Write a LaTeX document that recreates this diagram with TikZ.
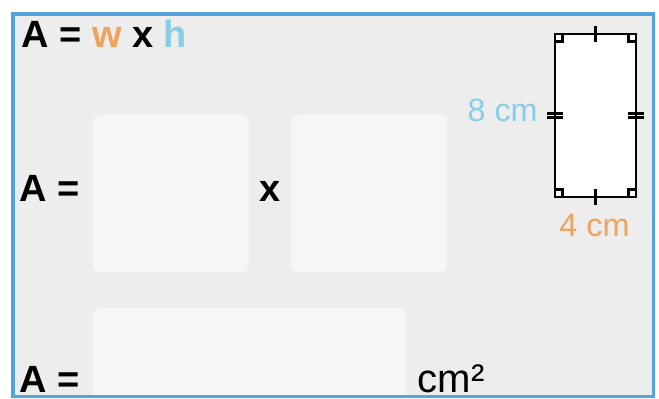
\documentclass[tikz,border=0pt]{standalone}
\usepackage{fontspec}
\setmainfont{Liberation Sans}
\definecolor{framecol}{HTML}{52A3DE}
\definecolor{paper}{HTML}{EDEDED}
\definecolor{slot}{HTML}{F6F6F6}
\definecolor{wcol}{HTML}{F0A35E}
\definecolor{hcol}{HTML}{88CDEA}
\tikzset{
  big/.style = {inner sep = 0, font = \fontsize{21.6}{26}\selectfont\bfseries},
  unitfont/.style = {inner sep = 0, font = \fontsize{22.8}{27}\selectfont},
  small/.style = {inner sep = 0, font = \fontsize{18.4}{22}\selectfont},
  slotbox/.style = {slot, rounded corners = 0.14cm},
  mark line/.style = {black, line width = 1.5pt}
}

\begin{document}
\begin{tikzpicture} [scale = 1]
\useasboundingbox (0, 0) rectangle (13.18, 7.98);
\fill[paper] (0.26, 0.04) rectangle (13.07, 7.70);
\fill[slotbox] (1.86, 2.54) rectangle (4.98, 5.68);
\fill[slotbox] (5.82, 2.54) rectangle (8.94, 5.68);
\fill[slotbox] (1.86, -0.3) rectangle (8.12, 1.82);
\draw[framecol, line width = 2pt] (0.26, 0.05) rectangle (13.07, 7.70);
\node[big, anchor = base west] (formula) at (0.42, 7.02) {A = \textcolor{wcol}{w} x \textcolor{hcol}{h}};
\node[big, anchor = base west] (rowtwo) at (0.38, 3.94) {A =};
\node[big, anchor = base west] (times) at (5.19, 3.94) {x};
\node[big, anchor = base west] (rowthree) at (0.38, 0.12) {A =};
\node[unitfont, anchor = base west] (unit) at (8.35, 0.12) {cm²};
\draw[mark line, fill = white] (11.10, 4.04) rectangle (12.72, 7.30);
\draw[mark line] (11.91, 7.14) -- (11.91, 7.46);
\draw[mark line] (11.91, 3.88) -- (11.91, 4.20);
\draw[mark line] (10.94, 5.63) -- (11.26, 5.63);
\draw[mark line] (10.94, 5.71) -- (11.26, 5.71);
\draw[mark line] (12.56, 5.63) -- (12.88, 5.63);
\draw[mark line] (12.56, 5.71) -- (12.88, 5.71);
\draw[mark line] (11.10, 7.15) -- (11.25, 7.15) -- (11.25, 7.30);
\draw[mark line] (12.72, 7.15) -- (12.57, 7.15) -- (12.57, 7.30);
\draw[mark line] (11.10, 4.19) -- (11.25, 4.19) -- (11.25, 4.04);
\draw[mark line] (12.72, 4.19) -- (12.57, 4.19) -- (12.57, 4.04);
\node[small, hcol, anchor = base east] (height) at (10.76, 5.54) {8 cm};
\node[small, wcol, anchor = base] (width) at (11.89, 3.24) {4 cm};
\end{tikzpicture}
\end{document}
